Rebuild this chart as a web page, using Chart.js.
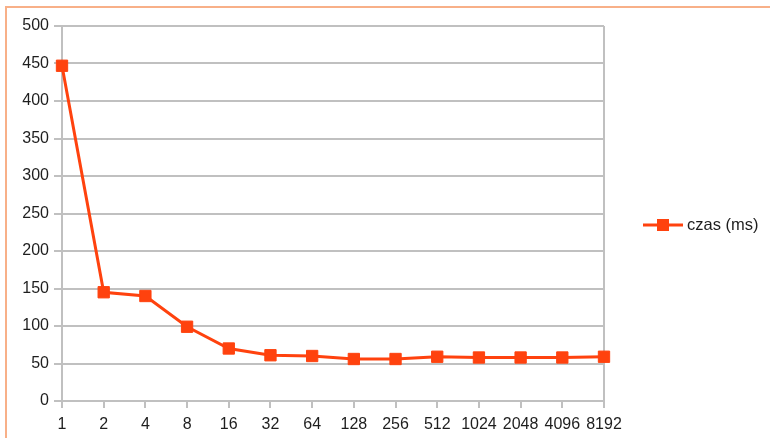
<!DOCTYPE html>
<html>
<head>
<meta charset="utf-8">
<script src="https://cdn.jsdelivr.net/npm/chart.js@4/dist/chart.umd.min.js"></script>
<style>
  html, body { margin: 0; padding: 0; background: #fff; overflow: hidden; }
  #frame {
    position: absolute; left: 5px; top: 6px;
    width: 900px; height: 600px;
    border-left: 2px solid #f8b088; border-top: 2px solid #f8b088;
  }
  #wrap { position: absolute; left: 0; top: 0; width: 770px; height: 438px; }
</style>
</head>
<body>
<div id="frame"></div>
<div id="wrap"><canvas id="c" width="770" height="438"></canvas></div>
<script>
// Block size (number of threads / chunks) and measured time in ms
const categories = ['1', '2', '4', '8', '16', '32', '64', '128', '256', '512', '1024', '2048', '4096', '8192'];
const czasMs = [447, 145, 140, 99, 70, 61, 60, 56, 56, 59, 58, 58, 58, 59];
const seriesLabel = 'czas (ms)';
const yTicks = { min: 0, max: 500, step: 50 };

const SERIES_COLOR = '#ff420e';
const GRID_COLOR = '#c0c0c0';
const TEXT_COLOR = '#1e1e1e';
const FONT = { family: '"Liberation Sans", Arial, sans-serif', size: 16 };

// Legend on the right: a short line with a square marker and the label
const sideLegend = {
  id: 'sideLegend',
  afterDraw(chart) {
    const ctx = chart.ctx;
    const ds = chart.data.datasets[0];
    const y = 225;
    ctx.save();
    ctx.strokeStyle = ds.borderColor;
    ctx.lineWidth = 3;
    ctx.beginPath();
    ctx.moveTo(643, y);
    ctx.lineTo(683, y);
    ctx.stroke();
    ctx.fillStyle = ds.borderColor;
    ctx.fillRect(657, y - 6, 12, 12);
    ctx.fillStyle = TEXT_COLOR;
    ctx.font = '16.5px ' + FONT.family;
    ctx.textBaseline = 'middle';
    ctx.textAlign = 'left';
    ctx.fillText(ds.label, 687, y);
    ctx.restore();
  }
};

new Chart(document.getElementById('c'), {
  type: 'line',
  data: {
    labels: categories,
    datasets: [{
      label: seriesLabel,
      data: czasMs,
      borderColor: SERIES_COLOR,
      backgroundColor: SERIES_COLOR,
      borderWidth: 3,
      pointStyle: 'rect',
      pointRadius: 8,
      pointBorderWidth: 1,
      pointHoverRadius: 8,
      tension: 0,
      fill: false
    }]
  },
  options: {
    responsive: false,
    animation: false,
    events: [],
    layout: { padding: { left: 0, right: 166, top: 26, bottom: 0 } },
    plugins: { legend: { display: false }, tooltip: { enabled: false } },
    scales: {
      x: {
        type: 'category',
        offset: false,
        afterFit(scale) { scale.height = 37; },
        grid: {
          drawOnChartArea: true,
          color: (ctx) => ctx.index === categories.length - 1 ? GRID_COLOR : 'rgba(0,0,0,0)',
          tickColor: GRID_COLOR,
          tickLength: 7,
          lineWidth: 2
        },
        border: { display: true, color: GRID_COLOR, width: 2 },
        ticks: { color: TEXT_COLOR, font: FONT, padding: 7, maxRotation: 0, autoSkip: false }
      },
      y: {
        min: yTicks.min,
        max: yTicks.max,
        afterFit(scale) { scale.width = 62; },
        grid: { color: GRID_COLOR, tickColor: GRID_COLOR, tickLength: 8, lineWidth: 2 },
        border: { display: true, color: GRID_COLOR, width: 2 },
        ticks: { stepSize: yTicks.step, color: TEXT_COLOR, font: FONT, padding: 5 }
      }
    }
  },
  plugins: [sideLegend]
});
</script>
</body>
</html>
